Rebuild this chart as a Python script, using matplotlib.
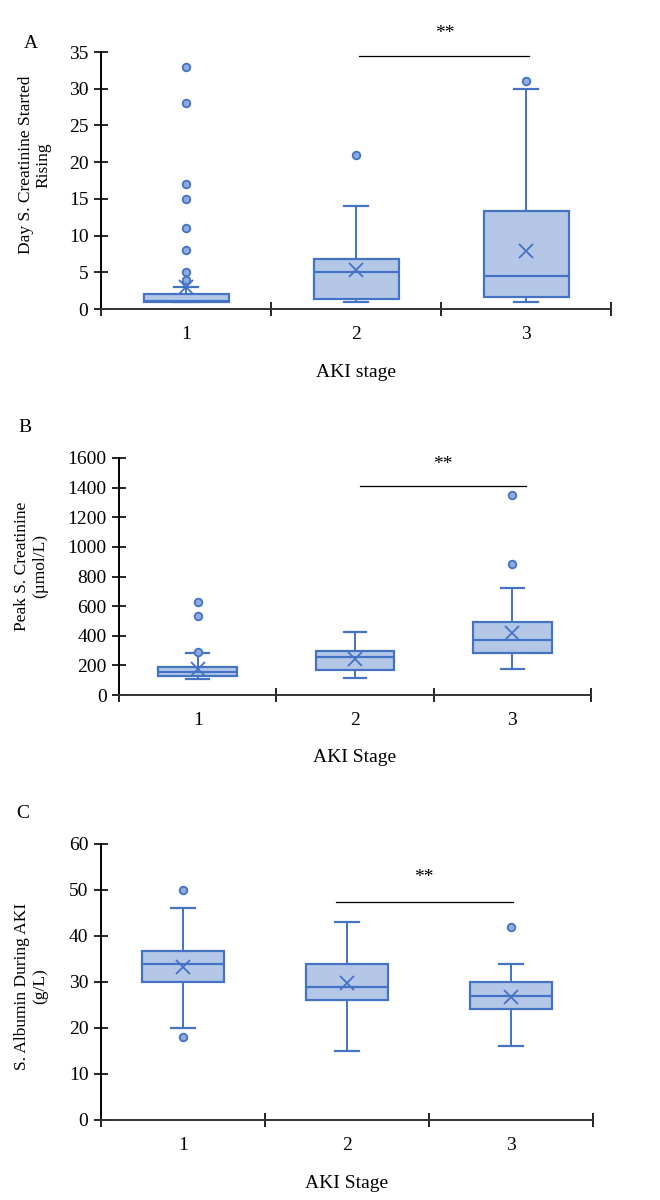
import matplotlib
matplotlib.use("Agg")
import matplotlib.pyplot as plt

plt.rcParams['font.family'] = ['Liberation Serif', 'DejaVu Serif']
plt.rcParams['font.size'] = 14

# --------------------------------------------------
# Data
# --------------------------------------------------
stages = ["1", "2", "3"]

# A: day serum creatinine started rising
a_low = [1, 1, 1]
a_q1 = [1, 1.3, 1.7]
a_med = [1.1, 5.0, 4.5]
a_q3 = [2, 6.8, 13.3]
a_high = [3, 14, 30]
a_mean = [3.0, 5.35, 7.9]
a_out = [[33, 28, 17, 15, 11, 8, 5, 4], [21], [31]]

# B: peak serum creatinine (umol/L)
b_low = [108, 117, 178]
b_q1 = [126, 171, 284]
b_med = [153, 259, 374]
b_q3 = [189, 300, 491]
b_high = [286, 426, 720]
b_mean = [178, 243, 417]
b_out = [[630, 536, 290], [], [1353, 883]]

# C: serum albumin during AKI (g/L)
c_low = [20, 15, 16]
c_q1 = [30, 26, 24.2]
c_med = [34, 29, 27]
c_q3 = [36.7, 34, 30]
c_high = [46, 43, 34]
c_mean = [33.3, 29.8, 26.7]
c_out = [[50, 18], [], [42]]

edge = "#4472c4"
fill = "#b4c7e7"


def make_stats(low, q1, med, q3, high, mean, out):
    stats = []
    for i in range(len(stages)):
        stats.append(dict(whislo=low[i], q1=q1[i], med=med[i], q3=q3[i],
                          whishi=high[i], mean=mean[i], fliers=out[i],
                          label=stages[i]))
    return stats


def draw_panel(ax, stats, ymax, ystep, xlabel, ylabel, label_px, sig, letter_px, letter):
    fig = ax.figure
    ax.bxp(stats, positions=[1, 2, 3], widths=0.5, capwidths=0.145,
           showmeans=True, patch_artist=True,
           boxprops=dict(facecolor=fill, edgecolor=edge, linewidth=1.6),
           medianprops=dict(color=edge, linewidth=1.6),
           whiskerprops=dict(color=edge, linewidth=1.4),
           capprops=dict(color=edge, linewidth=1.6),
           meanprops=dict(marker='x', markeredgecolor=edge, markersize=10,
                          markeredgewidth=1.3),
           flierprops=dict(marker='o', markerfacecolor="#8faadc",
                           markeredgecolor=edge, markersize=5.5,
                           markeredgewidth=1.3))
    ax.set_xlim(0.5, 3.5)
    ax.set_ylim(0, ymax)
    ax.set_yticks(range(0, ymax + 1, ystep))
    ax.set_xticks([0.5, 1.5, 2.5, 3.5])
    ax.set_xticklabels([])
    ax.set_xticks([1, 2, 3], minor=True)
    ax.set_xticklabels(stages, minor=True)
    ax.tick_params(axis='x', which='major', direction='inout', length=10, width=1.2)
    ax.tick_params(axis='x', which='minor', length=0, pad=12)
    ax.tick_params(axis='y', direction='inout', length=10, width=1.2, pad=4)
    for s in ['top', 'right']:
        ax.spines[s].set_visible(False)
    ax.spines['left'].set_linewidth(1.4)
    ax.spines['bottom'].set_linewidth(1.4)
    ax.spines['bottom'].set_color("#333333")
    ax.set_xlabel(xlabel, labelpad=15)

    # y label as figure text, centred where the reference has it
    fig.text(label_px[0] / 660, 1 - label_px[1] / 1200, ylabel, rotation=90,
             ha='center', va='center', linespacing=1.15, multialignment='center',
             fontsize=12.5)

    # significance bar
    (x0, x1, yline, ystar) = sig
    ax.plot([x0, x1], [yline, yline], color="black", linewidth=0.9, clip_on=False)
    ax.text((x0 + x1) / 2, ystar, "**", ha='center', va='center', fontsize=14,
            clip_on=False)

    fig.text(letter_px[0] / 660, 1 - letter_px[1] / 1200, letter, ha='center',
             va='center')


fig = plt.figure(figsize=(6.6, 12), dpi=100)

ax_a = fig.add_axes([101 / 660, 1 - 309 / 1200, 510 / 660, 257 / 1200])
ax_b = fig.add_axes([119 / 660, 1 - 695 / 1200, 472 / 660, 237 / 1200])
ax_c = fig.add_axes([101 / 660, 1 - 1120 / 1200, 492 / 660, 276 / 1200])

draw_panel(ax_a, make_stats(a_low, a_q1, a_med, a_q3, a_high, a_mean, a_out),
           35, 5, "AKI stage", "Day S. Creatinine Started\nRising",
           (35, 165), (2.02, 3.02, 34.5, 37.5), (31, 43), "A")

draw_panel(ax_b, make_stats(b_low, b_q1, b_med, b_q3, b_high, b_mean, b_out),
           1600, 200, "AKI Stage", "Peak S. Creatinine\n(µmol/L)",
           (31, 566), (2.03, 3.09, 1410, 1554), (25, 428), "B")

draw_panel(ax_c, make_stats(c_low, c_q1, c_med, c_q3, c_high, c_mean, c_out),
           60, 10, "AKI Stage", "S. Albumin During AKI\n(g/L)",
           (31, 986), (1.93, 3.01, 47.5, 52.8), (23, 814), "C")

fig.savefig("out.png", dpi=100)
